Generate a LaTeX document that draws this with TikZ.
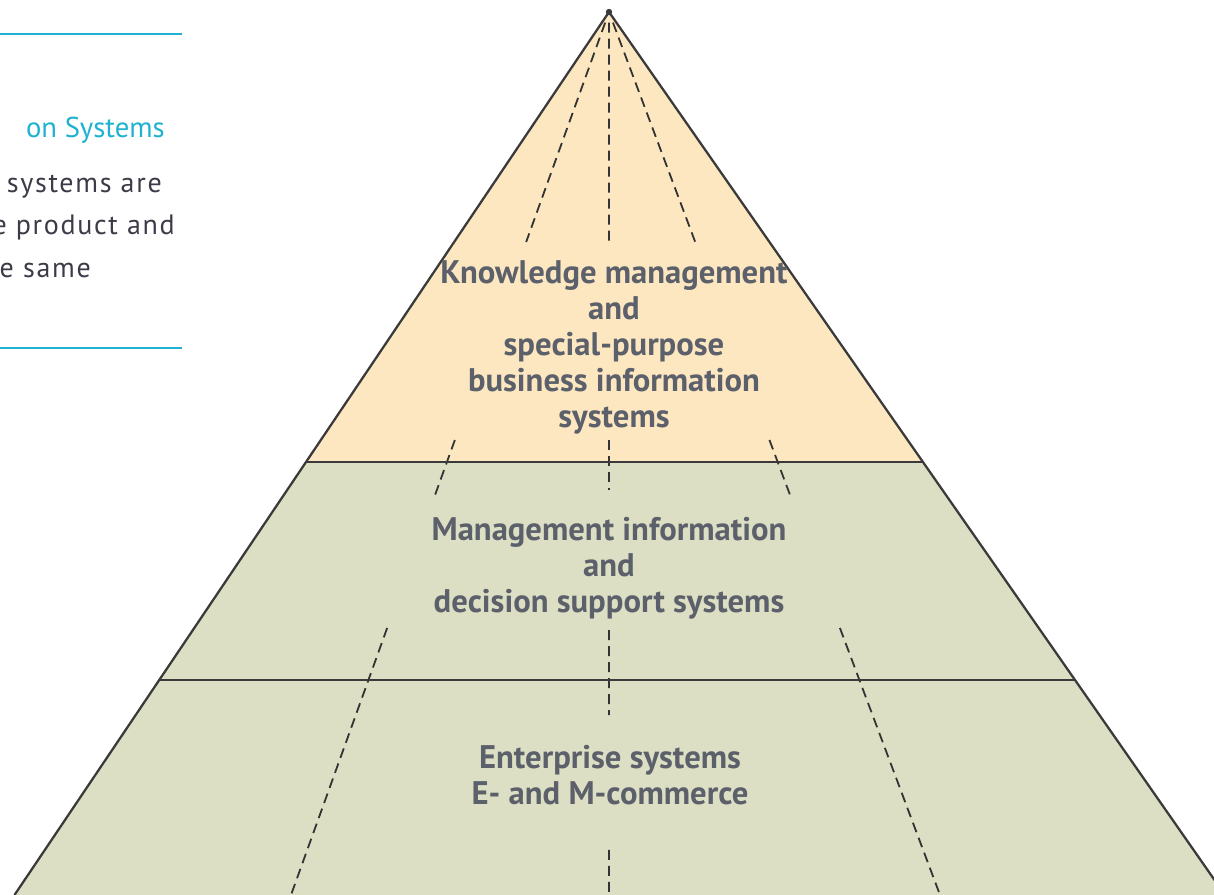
\documentclass[tikz,border=0pt]{standalone}
\usepackage{fontspec}
\setmainfont{PT Sans}
\newfontfamily\sidefont[LetterSpace=6]{PT Sans}
\usetikzlibrary{calc}
\definecolor{topfill}{HTML}{FDE7C1}
\definecolor{lowfill}{HTML}{DCDFC3}
\definecolor{edgegrey}{HTML}{3A3A3A}
\definecolor{dashgrey}{HTML}{333333}
\definecolor{labelgrey}{HTML}{5B606B}
\definecolor{sidecyan}{HTML}{1EB2D0}
\definecolor{sidetext}{HTML}{3C3C48}
\begin{document}
\begin{tikzpicture}[x=0.75pt,y=-0.75pt,
  tier/.style={font=\bfseries\fontsize{24.5}{27}\selectfont, text=labelgrey, align=center, inner sep=0pt, anchor=base},
  dashline/.style={dash pattern=on 7.5pt off 4.5pt, line width=1.35pt, draw=dashgrey},
  edge/.style={draw=edgegrey, line width=1.7pt},
  rule/.style={draw=sidecyan, line width=2.2pt},
  sidehead/.style={font=\fontsize{21.5}{25}\selectfont, text=sidecyan, inner sep=0pt, anchor=base east},
  sidebody/.style={font=\sidefont\fontsize{21}{25}\selectfont, text=sidetext, inner sep=0pt, anchor=base east}]
\useasboundingbox (0,0) rectangle (1214,895);
\clip (0,0) rectangle (1214,895);
% sidebar
\coordinate (r1a) at (0,34); \coordinate (r1b) at (182,34);
\coordinate (r2a) at (0,348); \coordinate (r2b) at (182,348);
\draw[rule] (r1a) -- (r1b);
\draw[rule] (r2a) -- (r2b);
\node[sidehead] (sh) at (165,138) {on Systems};
\node[sidebody] (s1) at (162,193) {systems are};
\node[sidebody] (s2) at (175,234) {e product and};
\node[sidebody] (s3) at (91,277) {e same};
% pyramid
\coordinate (A) at (609,12);
\coordinate (BL) at (14.5,895);
\coordinate (BR) at (1225,895);
\coordinate (ML) at (306,462);
\coordinate (MR) at (923,462);
\coordinate (LL) at (160,680);
\coordinate (LR) at (1075,680);
\fill[topfill] (A) -- (ML) -- (MR) -- cycle;
\fill[lowfill] (ML) -- (BL) -- (BR) -- (MR) -- cycle;
% dashed rays
\coordinate (FL) at (291,895);
\coordinate (FC) at (609,895);
\coordinate (FR) at (940,895);
\foreach \f in {FL,FR}{
  \draw[dashline] ($(A)!0.012!(\f)$) -- ($(A)!0.2605!(\f)$);
  \draw[dashline] ($(A)!0.4847!(\f)$) -- ($(A)!0.5504!(\f)$);
  \draw[dashline] ($(A)!0.6976!(\f)$) -- ($(A)!1!(\f)$);
}
\draw[dashline] ($(A)!0.012!(FC)$) -- ($(A)!0.2605!(FC)$);
\draw[dashline] ($(A)!0.4847!(FC)$) -- ($(A)!0.5413!(FC)$);
\draw[dashline] ($(A)!0.6999!(FC)$) -- ($(A)!0.7962!(FC)$);
\draw[dashline] ($(A)!0.9490!(FC)$) -- ($(A)!1!(FC)$);
% outlines
\draw[edge] (BL) -- (A) -- (BR);
\draw[edge] (ML) -- (MR);
\draw[edge] (LL) -- (LR);
\fill[edgegrey] (A) circle (2.4pt);
% labels (anchor = baseline of last line)
\node[tier] (t1) at (614,427) {Knowledge management\\and\\special-purpose\\business information\\systems};
\node[tier] (t2) at (609,612) {Management information\\and\\decision support systems};
\node[tier] (t3) at (610,804) {Enterprise systems\\E- and M-commerce};
\end{tikzpicture}
\end{document}
